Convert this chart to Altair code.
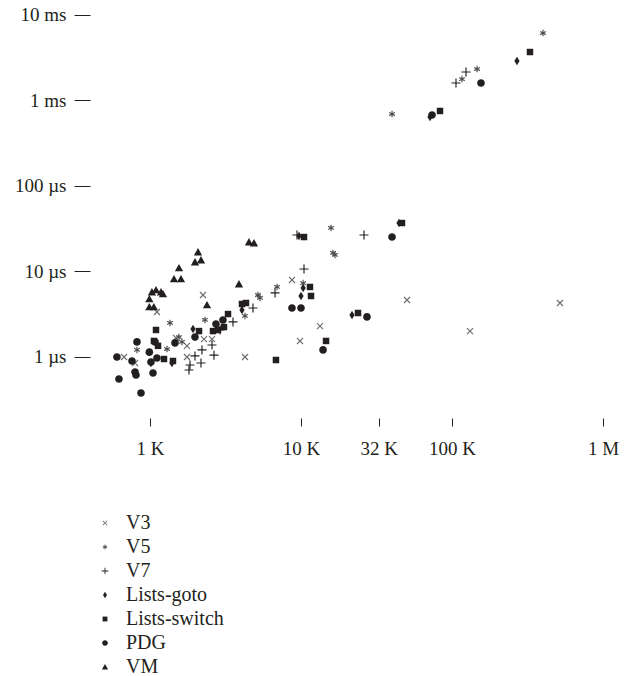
import math
import altair as alt
import pandas as pd

# ---- data (x: problem size, y: time in microseconds) ----
series_names = ["V3", "V5", "V7", "Lists-goto", "Lists-switch", "PDG", "VM"]

v3_x = [673, 796, 1112, 2244, 1486, 1758, 1758, 2278, 2575, 4256, 8715, 9850, 13360, 50350, 131600, 519000]
v3_y = [1.0, 0.85, 3.36, 5.31, 1.67, 1.35, 1.0, 1.62, 1.62, 1.0, 7.96, 1.54, 2.30, 4.64, 2.01, 4.28]

v5_x = [1357, 820, 1556, 1296, 2312, 1629, 5190, 5350, 6936, 4256, 15800, 16290, 16800, 10330, 40080, 116500, 146500, 400600]
v5_y = [2.50, 1.21, 1.71, 1.24, 2.71, 1.50, 5.31, 4.90, 6.59, 3.02, 32.3, 16.5, 15.6, 7.33, 695, 1783, 2335, 6157]

v7_x = [10470, 6730, 4809, 3546, 2909, 2575, 2210, 1986, 1812, 1840, 2177, 2654, 9410, 26130, 106300, 123800]
v7_y = [10.7, 5.61, 3.74, 2.57, 2.07, 1.38, 1.21, 1.03, 0.705, 0.806, 0.851, 1.05, 26.7, 26.7, 1602, 2154]

goto_x = [1927, 1015, 1398, 4066, 10000, 10330, 9700, 44570, 21770, 71500, 269300]
goto_y = [2.13, 0.851, 0.851, 3.55, 5.17, 6.41, 26.0, 36.9, 3.10, 641, 2897]

switch_x = [1096, 1062, 1130, 1238, 1420, 2112, 2614, 2821, 3090, 3286, 4066, 4322, 6826, 11470, 11650, 10470, 14650, 23850, 46650, 83300, 328500]
switch_y = [2.07, 1.54, 1.35, 0.947, 0.898, 2.01, 2.01, 2.07, 2.24, 3.18, 4.17, 4.28, 0.922, 6.59, 5.17, 25.3, 1.54, 3.27, 36.9, 754, 3690]

pdg_x = [604, 623, 760, 796, 808, 872, 820, 1047, 990, 1015, 1112, 1079, 1464, 1986, 2735, 3043, 8715, 10000, 14000, 27350, 40080, 73760, 155600]
pdg_y = [1.0, 0.553, 0.898, 0.668, 0.616, 0.379, 1.50, 0.650, 1.14, 0.874, 0.973, 1.50, 1.46, 1.71, 2.43, 2.71, 3.74, 3.74, 1.21, 2.94, 25.3, 676, 1602]

vm_x = [990, 990, 1060, 1030, 1096, 1183, 1219, 1442, 1604, 1556, 1986, 2177, 2080, 2385, 3884, 4525, 4883]
vm_y = [4.77, 3.85, 3.85, 5.75, 6.08, 5.75, 5.46, 8.17, 8.17, 11.0, 12.9, 13.6, 16.9, 4.06, 7.14, 22.1, 21.5]

x_ticks = [1000, 10000, 32768, 100000, 1000000]
y_ticks = [1, 10, 100, 1000, 10000]

# ---- table ----
rows = []
for name, xs, ys in [
    ("V3", v3_x, v3_y), ("V5", v5_x, v5_y), ("V7", v7_x, v7_y),
    ("Lists-goto", goto_x, goto_y), ("Lists-switch", switch_x, switch_y),
    ("PDG", pdg_x, pdg_y), ("VM", vm_x, vm_y),
]:
    for xv, yv in zip(xs, ys):
        rows.append({"series": name, "size": xv, "time": yv})
df = pd.DataFrame(rows)

# ---- symbol shapes (style); unit box [-1,1] = 9 px ----
def bar(theta_deg, t, r=1.0):
    th = math.radians(theta_deg)
    d = (r * math.cos(th), r * math.sin(th))
    n = (-math.sin(th), math.cos(th))
    pts = [(-d[0] - t * n[0], -d[1] - t * n[1]), (d[0] - t * n[0], d[1] - t * n[1]),
           (d[0] + t * n[0], d[1] + t * n[1]), (-d[0] + t * n[0], -d[1] + t * n[1])]
    return "M" + "L".join(f"{px:.3f},{py:.3f}" for px, py in pts) + "Z"

x_shape = bar(45, 0.13, 0.95) + bar(-45, 0.13, 0.95)
plus_shape = bar(0, 0.13, 1.0) + bar(90, 0.13, 1.0)
star_shape = bar(90, 0.13, 0.72) + bar(30, 0.13, 0.72) + bar(-30, 0.13, 0.72)
diamond_shape = "M0,-0.95L0.58,0L0,0.95L-0.58,0Z"
square_shape = "M-0.72,-0.72L0.72,-0.72L0.72,0.72L-0.72,0.72Z"
circle_shape = "M-0.85,0A0.85,0.85,0,1,1,0.85,0A0.85,0.85,0,1,1,-0.85,0Z"
triangle_shape = "M-0.92,0.75L0.92,0.75L0,-0.9Z"

shapes = [x_shape, star_shape, plus_shape, diamond_shape, square_shape, circle_shape, triangle_shape]
colors = ["#6d6e71", "#4d4d4f", "#231f20", "#231f20", "#231f20", "#231f20", "#231f20"]

FONT = "Liberation Serif"

x_label = ("datum.value >= 999999 ? '1 M' : datum.value >= 99999 ? '100 K' : "
           "datum.value >= 32000 ? '32 K' : datum.value >= 9999 ? '10 K' : '1 K'")
y_label = ("datum.value >= 9999 ? '10 ms' : datum.value >= 999 ? '1 ms' : "
           "datum.value >= 99 ? '100 µs' : datum.value >= 9 ? '10 µs' : '1 µs'")

chart = alt.Chart(df).mark_point(filled=True, opacity=1, strokeWidth=0, size=81).encode(
    x=alt.X("size:Q",
            scale=alt.Scale(type="log", domain=[400.6, 1509600], nice=False, zero=False),
            axis=alt.Axis(values=x_ticks, labelExpr=x_label, title=None, domain=False,
                          grid=False, tickSize=8, tickColor="#231f20", tickWidth=1,
                          labelPadding=13, labelFontSize=19, labelFont=FONT,
                          labelColor="#231f20", labelFlush=False)),
    y=alt.Y("time:Q",
            scale=alt.Scale(type="log", domain=[0.1934, 13090], nice=False, zero=False),
            axis=alt.Axis(values=y_ticks, labelExpr=y_label, title=None, domain=False,
                          grid=False, tickSize=16, tickColor="#231f20", tickWidth=1,
                          labelPadding=8, labelFontSize=19, labelFont=FONT,
                          labelColor="#231f20")),
    shape=alt.Shape("series:N", scale=alt.Scale(domain=series_names, range=shapes),
                    legend=alt.Legend(title=None, orient="none", legendX=5, legendY=508,
                                      direction="vertical", labelFont=FONT, labelFontSize=20,
                                      labelColor="#231f20", symbolSize=45, labelOffset=11,
                                      rowPadding=4, padding=0, symbolStrokeWidth=0,
                                      labelLimit=300)),
    color=alt.Color("series:N", scale=alt.Scale(domain=series_names, range=colors)),
).properties(
    width=540, height=413,
    background="white",
    autosize=alt.AutoSizeParams(type="none"),
    padding={"left": 90, "top": 5, "right": 8, "bottom": 258},
).configure_view(stroke=None)

chart.save("out.html", embed_options={"renderer": "svg", "actions": False})
